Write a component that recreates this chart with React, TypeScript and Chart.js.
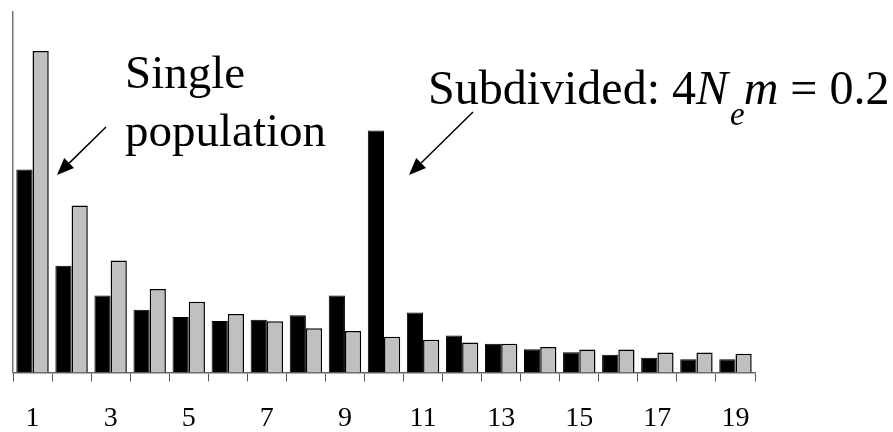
import React, { useEffect, useRef } from "react";
import { Chart, registerables, Plugin } from "chart.js";

Chart.register(...registerables);

// Number of pairwise differences (1..19)
const categories: string[] = Array.from({ length: 19 }, (_, i) => String(i + 1));

// Frequency under a structured (subdivided) population, 4Nem = 0.2
const subdivided: number[] = [
  0.1407, 0.0739, 0.0534, 0.0435, 0.0385, 0.0357, 0.0366, 0.0396, 0.0534, 0.1678,
  0.0416, 0.0256, 0.0198, 0.0161, 0.014, 0.0122, 0.0102, 0.0092, 0.0092,
];

// Frequency under a single panmictic population
const single: number[] = [
  0.2229, 0.1158, 0.0776, 0.0578, 0.049, 0.0405, 0.0354, 0.0306, 0.0288, 0.0247,
  0.0226, 0.0207, 0.0198, 0.0177, 0.0159, 0.0159, 0.0138, 0.0138, 0.0129,
];

const yMax = 0.25;
const SERIF = "'Liberation Serif', 'Times New Roman', serif";

function drawArrow(ctx: CanvasRenderingContext2D, x1: number, y1: number, x2: number, y2: number) {
  const ang = Math.atan2(y2 - y1, x2 - x1);
  const headLen = 17;
  const headHalf = 7;
  const bx = x2 - headLen * Math.cos(ang);
  const by = y2 - headLen * Math.sin(ang);
  ctx.save();
  ctx.strokeStyle = "#000";
  ctx.fillStyle = "#000";
  ctx.lineWidth = 1.5;
  ctx.beginPath();
  ctx.moveTo(x1, y1);
  ctx.lineTo(bx, by);
  ctx.stroke();
  ctx.beginPath();
  ctx.moveTo(x2, y2);
  ctx.lineTo(bx + headHalf * Math.sin(ang), by - headHalf * Math.cos(ang));
  ctx.lineTo(bx - headHalf * Math.sin(ang), by + headHalf * Math.cos(ang));
  ctx.closePath();
  ctx.fill();
  ctx.restore();
}

const annotations: Plugin<"bar"> = {
  id: "annotations",
  afterDraw(chart) {
    const ctx = chart.ctx;
    ctx.save();
    ctx.fillStyle = "#000";
    ctx.textBaseline = "alphabetic";
    ctx.textAlign = "left";
    ctx.font = `47px ${SERIF}`;
    ctx.fillText("Single", 125, 88);
    ctx.fillText("population", 125, 146);

    // Subdivided: 4Nem = 0.2
    let x = 428;
    const base = 104;
    ctx.font = `48px ${SERIF}`;
    const p1 = "Subdivided: 4";
    ctx.fillText(p1, x, base);
    x += ctx.measureText(p1).width;
    ctx.font = `italic 48px ${SERIF}`;
    ctx.fillText("N", x, base);
    x += ctx.measureText("N").width + 2;
    ctx.font = `italic 33px ${SERIF}`;
    ctx.fillText("e", x, base + 21);
    x += ctx.measureText("e").width - 1;
    ctx.font = `italic 48px ${SERIF}`;
    ctx.fillText("m", x, base);
    x += ctx.measureText("m").width;
    ctx.font = `48px ${SERIF}`;
    ctx.fillText(" = 0.2", x, base);
    ctx.restore();

    drawArrow(ctx, 106, 127, 57, 175);
    drawArrow(ctx, 473, 112, 409, 175);
  },
};

const CANVAS_H = 455;

export default function App() {
  const ref = useRef<HTMLCanvasElement | null>(null);

  useEffect(() => {
    if (!ref.current) return;
    const chart = new Chart(ref.current, {
      type: "bar",
      data: {
        labels: categories,
        datasets: [
          {
            label: "Subdivided",
            data: subdivided,
            backgroundColor: "#000000",
            borderColor: "#000000",
            borderWidth: 1,
          },
          {
            label: "Single population",
            data: single,
            backgroundColor: "#c0c0c0",
            borderColor: "#000000",
            borderWidth: 1.5,
          },
        ],
      },
      options: {
        responsive: false,
        animation: false,
        layout: { padding: { left: 13, right: 138, top: 12, bottom: 0 } },
        datasets: { bar: { categoryPercentage: 0.83, barPercentage: 1 } },
        plugins: { legend: { display: false }, tooltip: { enabled: false } },
        scales: {
          x: {
            grid: {
              offset: true,
              drawOnChartArea: false,
              drawTicks: true,
              tickLength: 9,
              color: "#555555",
              lineWidth: 1,
            },
            border: { display: true, color: "#666666", width: 1.5 },
            ticks: {
              autoSkip: false,
              maxRotation: 0,
              color: "#000",
              padding: 20,
              font: { family: SERIF, size: 28 },
              callback: (_v, i) => (i % 2 === 0 ? categories[i] : ""),
            },
          },
          y: {
            min: 0,
            max: yMax,
            grid: { display: false, drawTicks: false },
            border: { display: true, color: "#777777", width: 1.5 },
            ticks: { display: false },
          },
        },
      },
      plugins: [annotations],
    });
    return () => chart.destroy();
  }, []);

  return (
    <div
      style={{
        position: "absolute",
        left: 0,
        top: 0,
        width: 893,
        height: 432,
        overflow: "hidden",
        background: "#fff",
      }}
    >
      <canvas ref={ref} width={893} height={CANVAS_H} style={{ display: "block" }} />
    </div>
  );
}
